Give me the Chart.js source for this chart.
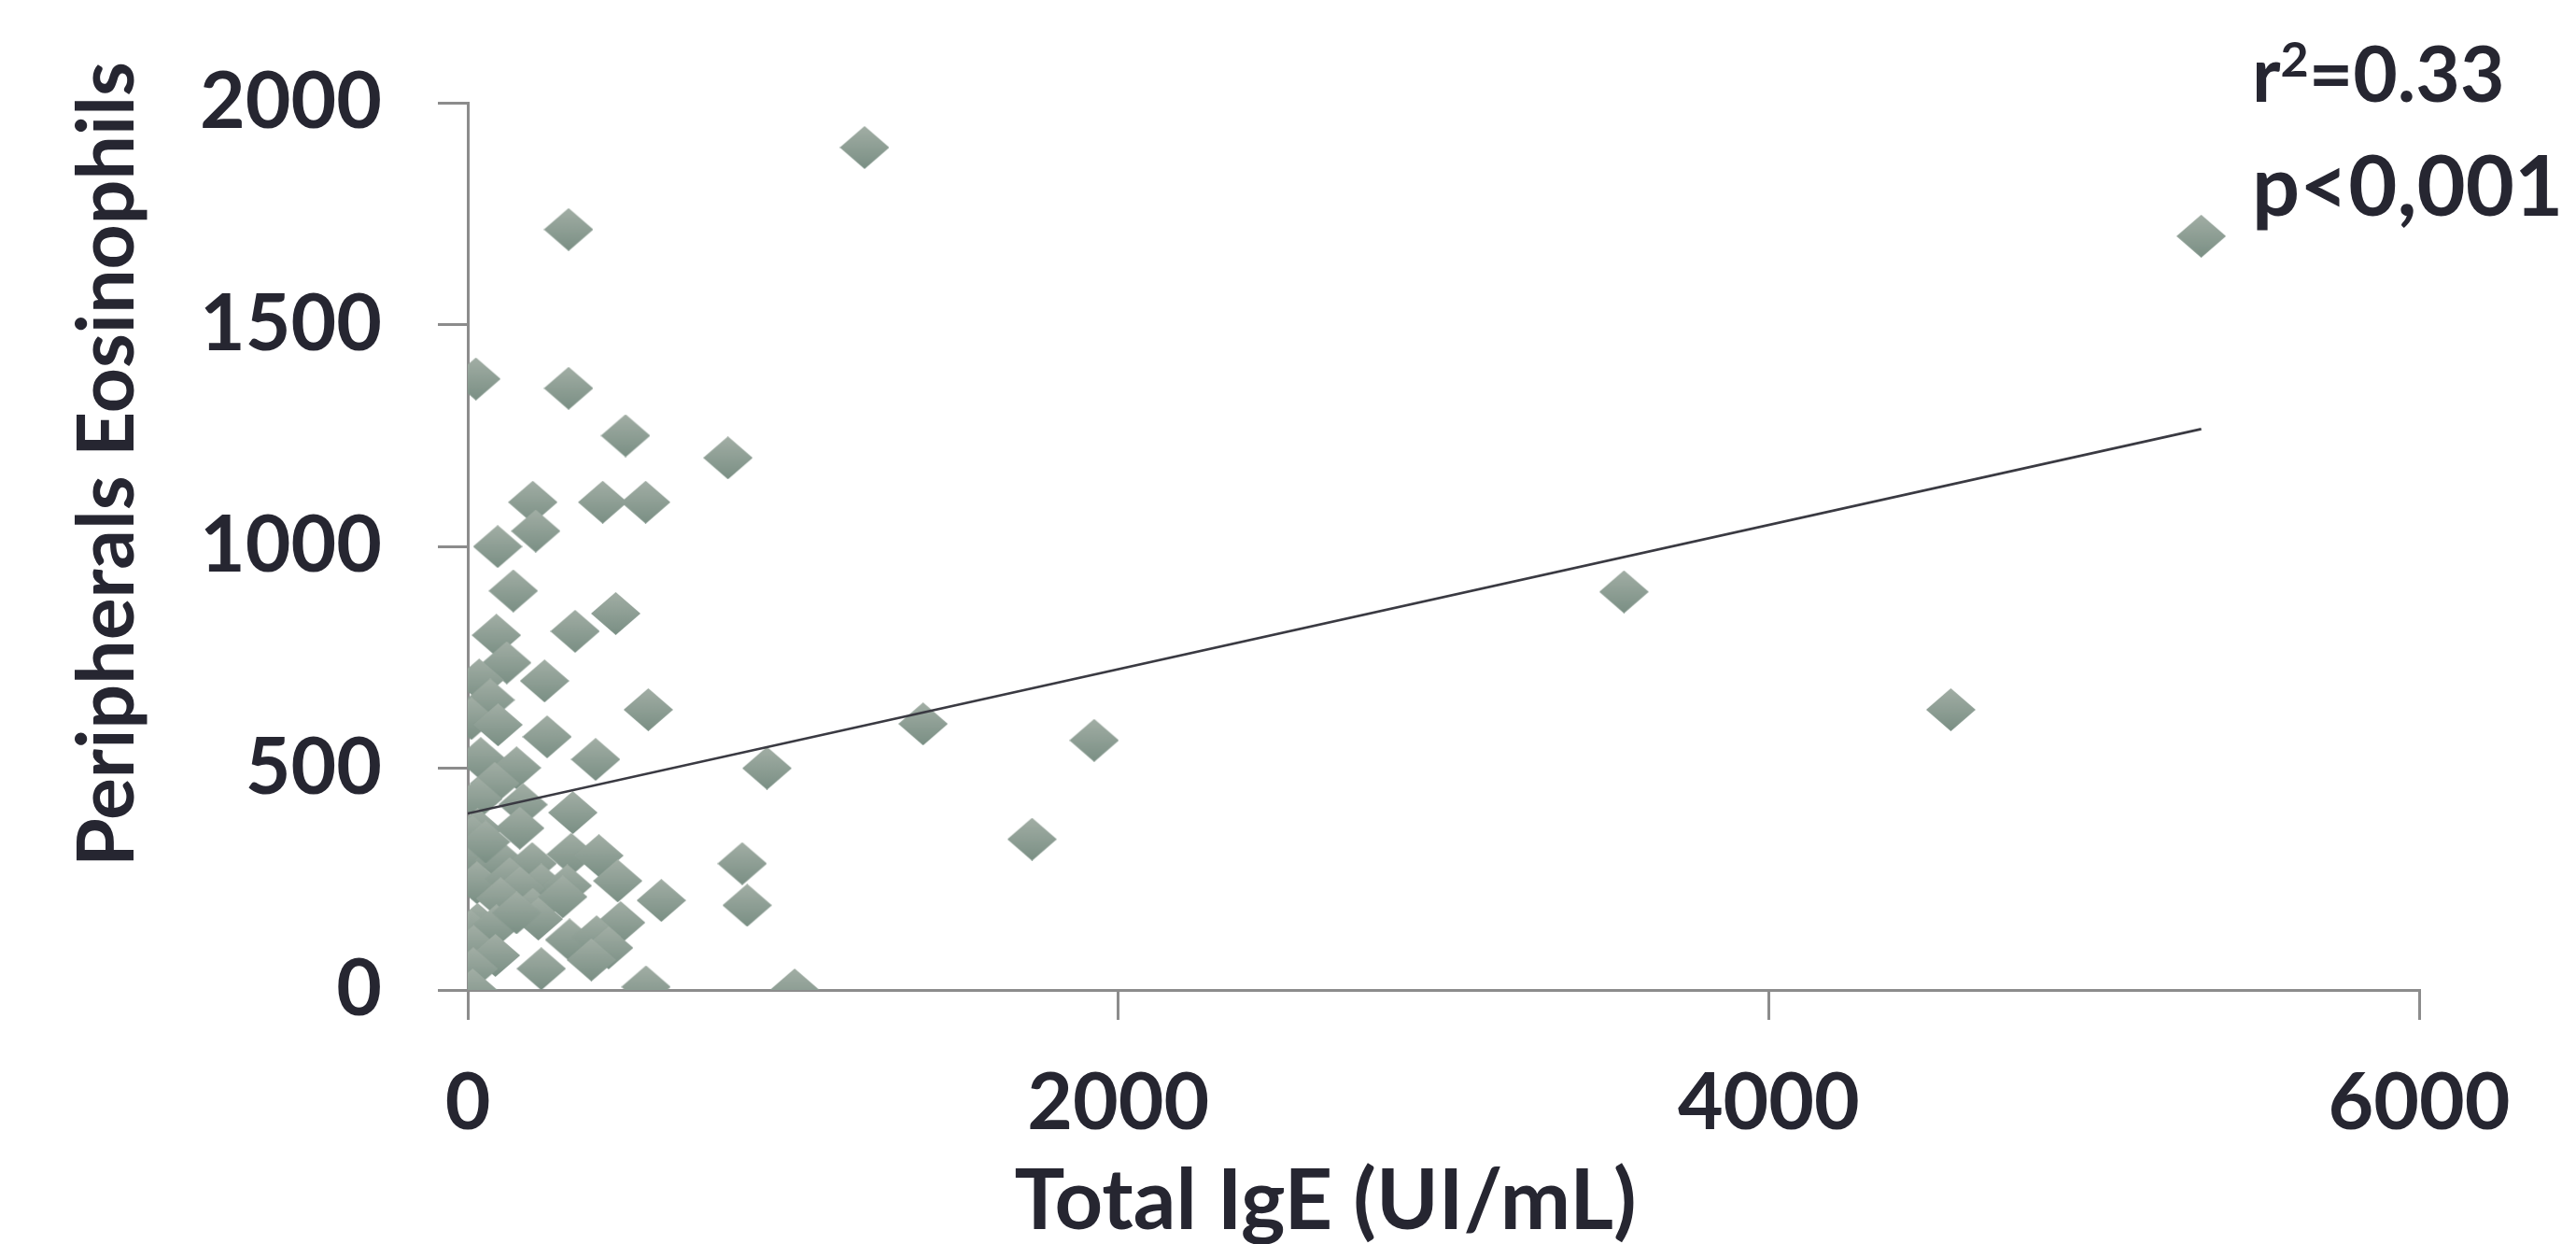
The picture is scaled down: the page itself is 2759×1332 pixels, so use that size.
<!DOCTYPE html>
<html>
<head>
<meta charset="utf-8">
<script src="https://cdn.jsdelivr.net/npm/chart.js@4.4.1/dist/chart.umd.min.js"></script>
<style>
  html, body { margin: 0; padding: 0; background: #fff; }
  canvas { display: block; }
</style>
</head>
<body>
<canvas id="eosChart" width="2759" height="1332"></canvas>
<script>
const xTicks = [0, 2000, 4000, 6000];
const yTicks = [0, 500, 1000, 1500, 2000];

// Total IgE (UI/mL) and peripheral eosinophils, one entry per patient
const totalIgE = [1220, 5330, 310, 25, 310, 485, 800, 200, 415, 547, 209, 92, 140, 88, 330, 455,
  120, 35, 236, 69, 11, 93, 555, 244, 393, 40, 150, 83, 31, 170, 323, 920, 1400, 1926, 1735,
  3555, 4560, 844, 859, 595, 548, 1005,
  30, 160, 15, 15, 98, 198, 318, 403, 55, 461, 28, 129, 226, 306, 160, 101, 200, 292, 470,
  30, 10, 88, 217, 150, 313, 396, 433, 380, 18, 85, 17, 226, 15];
const eosinophils = [1900, 1700, 1715, 1378, 1357, 1250, 1200, 1100, 1100, 1100, 1035, 1000, 900, 800, 809, 849,
  738, 699, 697, 654, 612, 598, 632, 571, 520, 522, 501, 466, 431, 418, 400, 500, 600, 563, 340,
  898, 632, 285, 191, 202, 7, 0,
  362, 365, 345, 300, 292, 285, 306, 303, 334, 246, 242, 251, 237, 235, 230, 206, 182, 210, 152,
  148, 132, 145, 160, 174, 113, 120, 95, 68, 98, 78, 48, 48, 0];

// linear trend line ends
const trendIgE = [0, 5330];
const trendEos = [398, 1265];

const xTitle = 'Total IgE (UI/mL)';
const yTitle = 'Peripherals Eosinophils';
const rText = ['r', '2', '=0.33'];
const pText = 'p<0,001';

const ink = '#262631';
const axisGray = '#8c8c8c';
const fontFam = 'Lato, "Open Sans", sans-serif';

function makeDiamond(w, h) {
  const c = document.createElement('canvas');
  c.width = w;
  c.height = h;
  const g = c.getContext('2d');
  const grad = g.createLinearGradient(0, 0, 0, h);
  grad.addColorStop(0, '#a2aea5');
  grad.addColorStop(1, '#7a8f84');
  g.fillStyle = grad;
  g.beginPath();
  g.moveTo(w / 2, 0);
  g.lineTo(w, h / 2);
  g.lineTo(w / 2, h);
  g.lineTo(0, h / 2);
  g.closePath();
  g.fill();
  return c;
}

const points = totalIgE.map((v, i) => ({x: v, y: eosinophils[i]}));
const trend = trendIgE.map((v, i) => ({x: v, y: trendEos[i]}));

// y title and the r2 / p note
const textPlugin = {
  id: 'extraText',
  afterDraw(chart) {
    const ctx = chart.ctx;
    ctx.save();
    ctx.fillStyle = ink;
    ctx.textBaseline = 'alphabetic';

    ctx.font = 'bold 84px ' + fontFam;
    ctx.translate(143, 497);
    ctx.rotate(-Math.PI / 2);
    ctx.textAlign = 'center';
    ctx.fillText(yTitle, 0, 0);
    ctx.setTransform(1, 0, 0, 1, 0, 0);

    ctx.textAlign = 'left';
    let x = 2412;
    ctx.font = 'bold 82px ' + fontFam;
    ctx.fillText(rText[0], x, 109);
    x += ctx.measureText(rText[0]).width;
    ctx.font = 'bold 52px ' + fontFam;
    ctx.fillText(rText[1], x, 82);
    x += ctx.measureText(rText[1]).width;
    ctx.font = 'bold 82px ' + fontFam;
    ctx.fillText(rText[2], x, 109);
    ctx.font = 'bold 90px ' + fontFam;
    ctx.fillText(pText, 2412, 231);
    ctx.restore();
  }
};

function axisOpts(min, max, tickList) {
  return {
    type: 'linear',
    min: min,
    max: max,
    afterBuildTicks: s => { s.ticks = tickList.map(v => ({value: v})); },
    ticks: {
      color: ink,
      font: {family: fontFam, size: 84, weight: 'bold'},
      padding: 60,
      callback: v => String(v)
    },
    grid: {display: true, drawOnChartArea: false, drawTicks: true, tickLength: 32, color: axisGray, lineWidth: 3},
    border: {display: true, color: axisGray, width: 3}
  };
}

const xAxis = axisOpts(0, 6000, xTicks);
xAxis.afterFit = s => { s.height = 182; };
xAxis.ticks.padding = 40;
const yAxis = axisOpts(0, 2000, yTicks);
yAxis.afterFit = s => { s.width = 421; };

// empty box on the right, keeps the plot clear of the r2 note
const rightSpace = {
  type: 'linear',
  position: 'right',
  ticks: {display: false},
  grid: {display: false},
  border: {display: false},
  afterFit: s => { s.width = 168; }
};

new Chart(document.getElementById('eosChart').getContext('2d'), {
  type: 'scatter',
  data: {
    datasets: [{
      data: points,
      pointStyle: makeDiamond(53, 46),
      pointRadius: 26,
      order: 1
    }, {
      data: trend,
      showLine: true,
      borderColor: '#3a3a42',
      borderWidth: 2.6,
      pointRadius: 0,
      order: 0
    }]
  },
  options: {
    responsive: false,
    animation: false,
    events: [],
    layout: {padding: {left: 80, right: 0, top: 103, bottom: 0}},
    scales: {x: xAxis, y: yAxis, yRight: rightSpace},
    plugins: {
      legend: {display: false},
      tooltip: {enabled: false},
      title: {
        display: true,
        position: 'bottom',
        text: xTitle,
        color: ink,
        font: {family: fontFam, size: 90, weight: 'bold', lineHeight: 1},
        padding: {top: 0, bottom: 0}
      }
    }
  },
  plugins: [textPlugin]
});
</script>
</body>
</html>
